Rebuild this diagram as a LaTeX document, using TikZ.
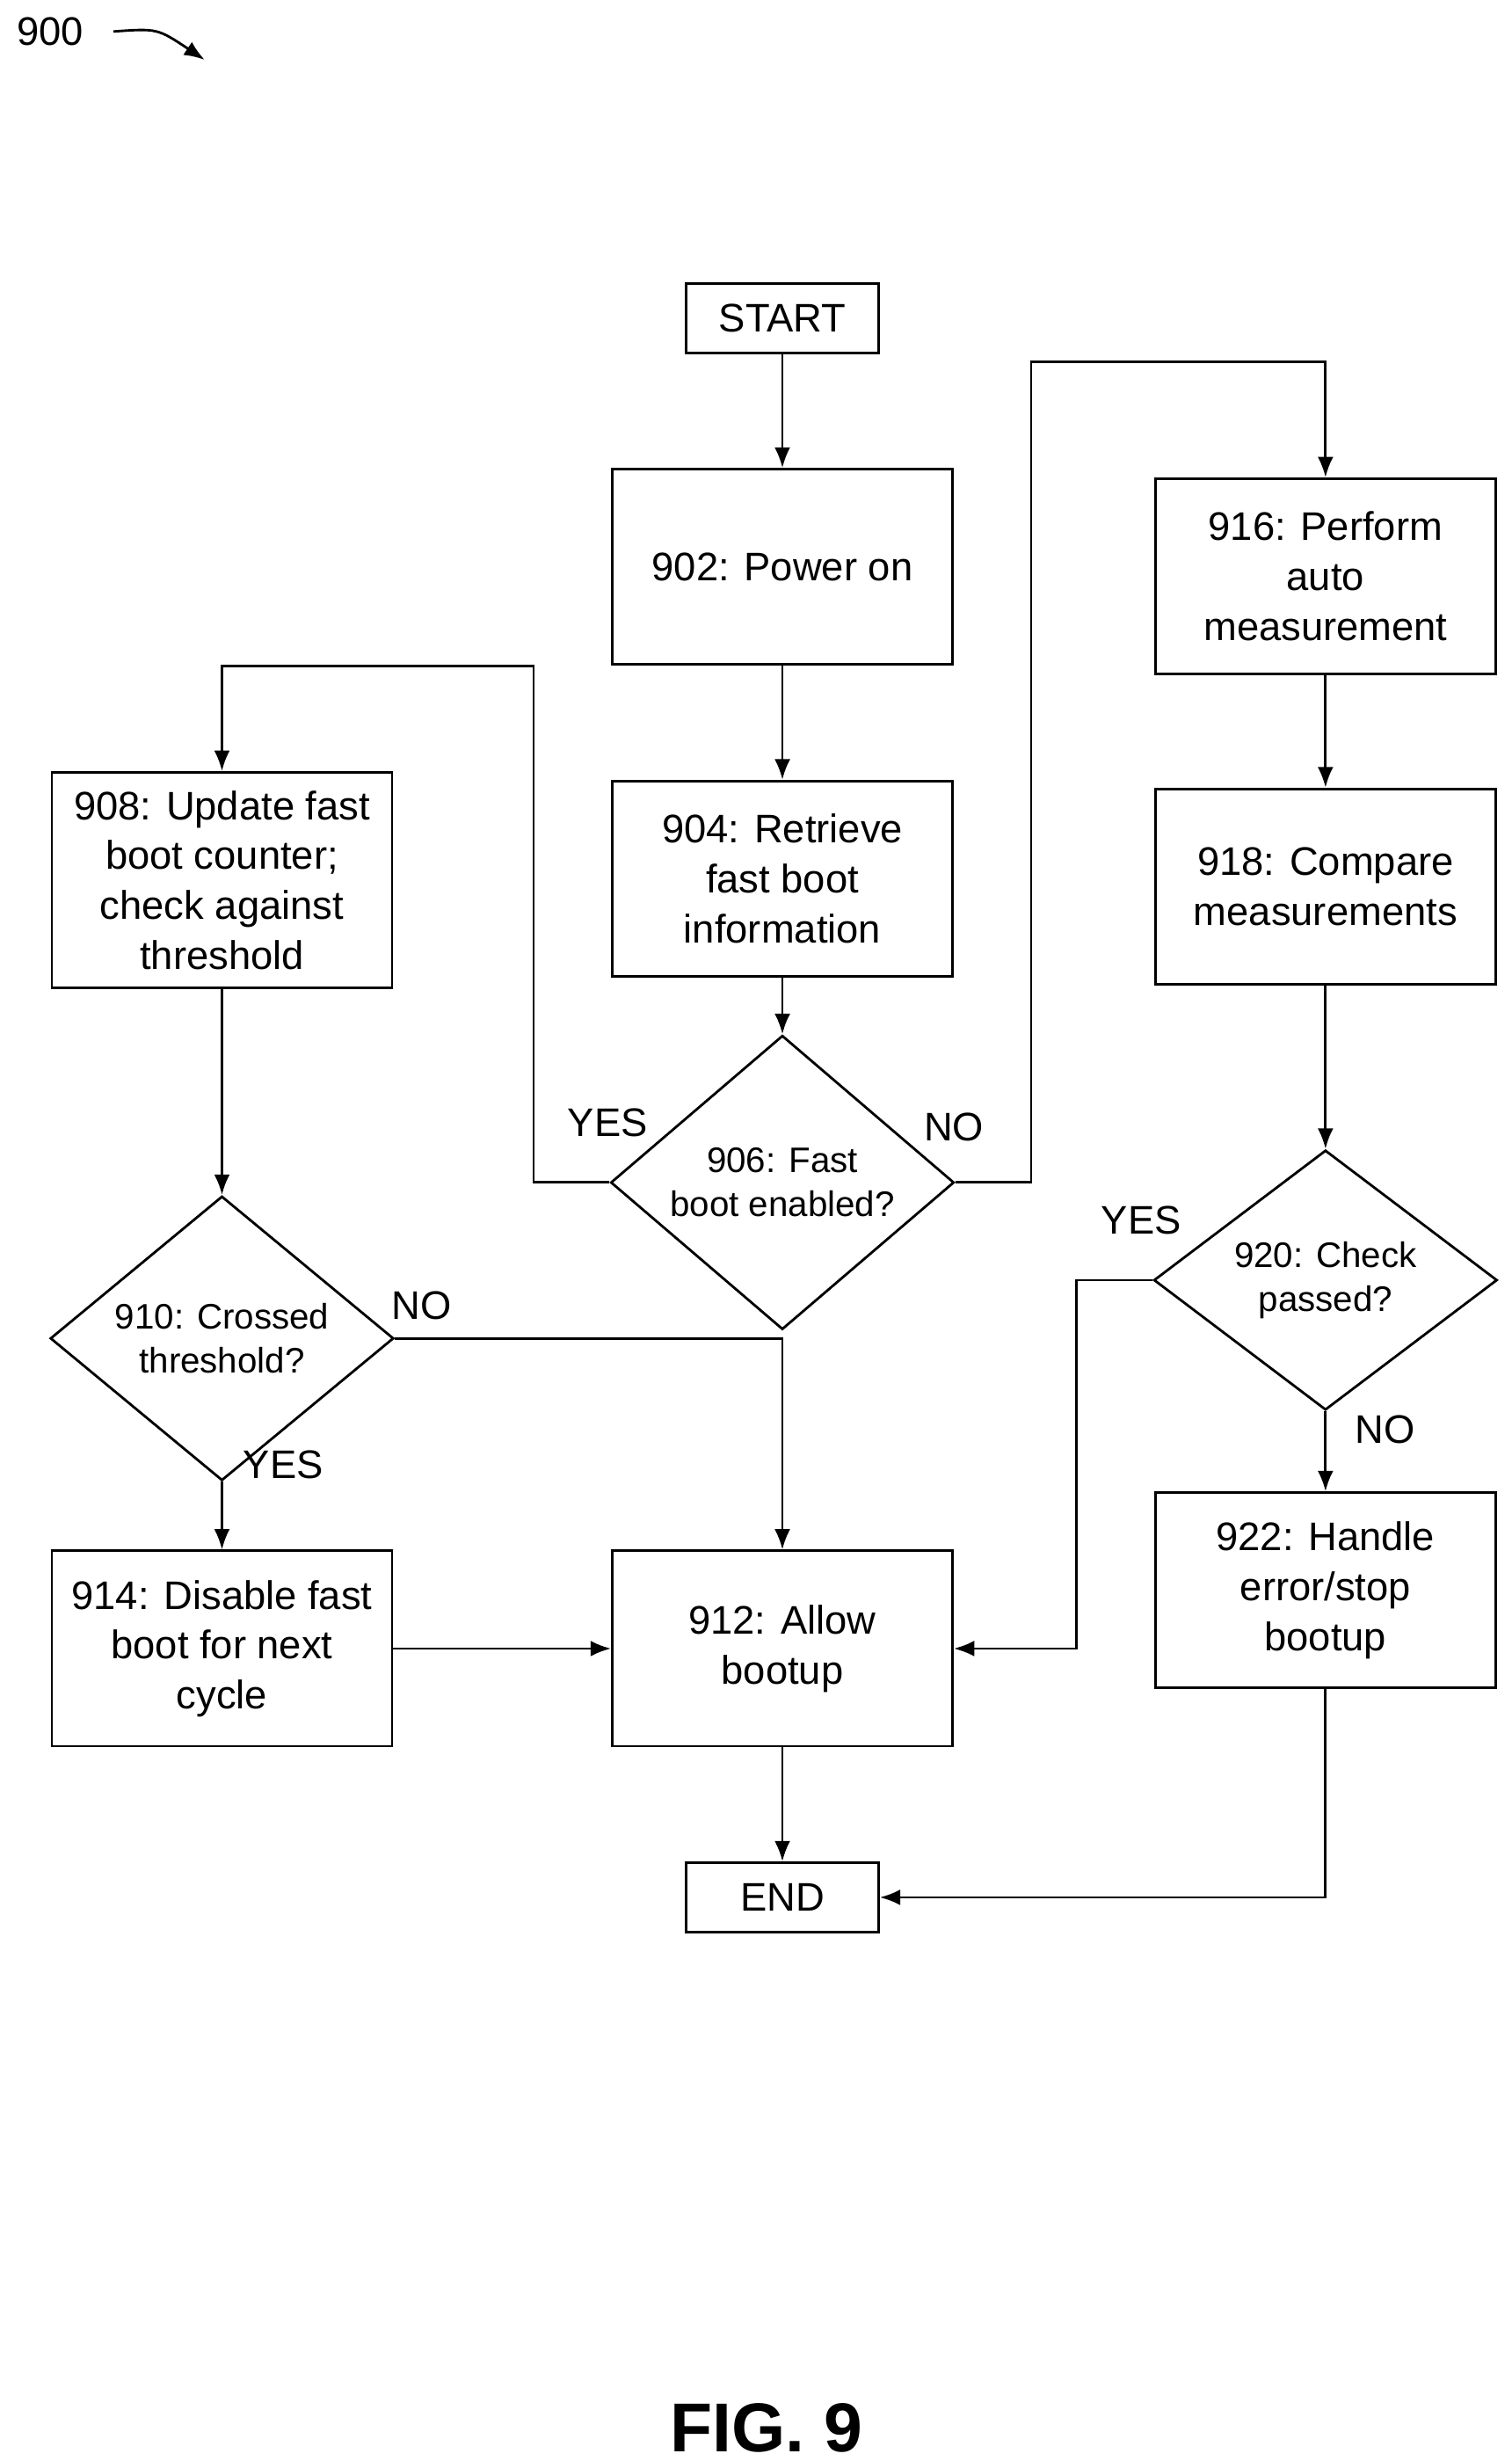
\documentclass[tikz,border=0pt]{standalone}
\usepackage{fontspec}
\setmainfont{Liberation Sans}
\usetikzlibrary{shapes.geometric,arrows.meta}

\tikzset{
  box/.style={draw,rectangle,minimum width=2.16cm,minimum height=1.24cm,align=center,font=\fontsize{7.2}{9}\selectfont},
  term/.style={draw,rectangle,minimum width=1.22cm,minimum height=0.44cm,font=\fontsize{7.2}{9}\selectfont},
  dec/.style={draw,diamond,minimum width=2.18cm,minimum height=1.24cm,inner sep=0pt,align=center,font=\fontsize{6.4}{8}\selectfont},
  lbl/.style={font=\fontsize{7.2}{9}\selectfont},
  flow/.style={-{Latex[length=1.3mm,width=1mm]}}
}

\begin{document}
\begin{tikzpicture}[x=0.01cm,y=-0.01cm,line width=0.45pt]
  \useasboundingbox (0,0) rectangle (960,1563);

  % figure number
  \node[lbl] (fig) at (32,20) {900};
  \coordinate (figtip) at (130,38);
  \draw[flow] (72,20) .. controls (100,18) .. (figtip);

  % middle column
  \node[term] (start) at (497,202) {START};
  \node[box] (n902) at (497,360) {902: Power on};
  \node[box] (n904) at (497,558) {904: Retrieve\\fast boot\\information};
  \node[dec] (n906) at (497,751) {906: Fast\\boot enabled?};
  \node[box] (n912) at (497,1047) {912: Allow\\bootup};
  \node[term] (end) at (497,1205) {END};

  % left column
  \node[box] (n908) at (141,559) {908: Update fast\\boot counter;\\check against\\threshold};
  \node[dec] (n910) at (141,850) {910: Crossed\\threshold?};
  \node[box] (n914) at (141,1047) {914: Disable fast\\boot for next\\cycle};

  % right column
  \node[box] (n916) at (842,366) {916: Perform\\auto\\measurement};
  \node[box] (n918) at (842,563) {918: Compare\\measurements};
  \node[dec] (n920) at (842,813) {920: Check\\passed?};
  \node[box] (n922) at (842,1010) {922: Handle\\error/stop\\bootup};

  \draw[flow] (start) -- (n902);
  \draw[flow] (n902) -- (n904);
  \draw[flow] (n904) -- (n906);
  \draw[flow] (n906.west) -- (339,751) -- (339,423) -| (n908.north);
  \draw[flow] (n906.east) -- (655,751) -- (655,230) -| (n916.north);
  \draw[flow] (n916) -- (n918);
  \draw[flow] (n918) -- (n920);
  \draw[flow] (n920.west) -- (684,813) |- (n912.east);
  \draw[flow] (n920) -- (n922);
  \draw[flow] (n922.south) |- (end.east);
  \draw[flow] (n908) -- (n910);
  \draw[flow] (n910.east) -| (n912.north);
  \draw[flow] (n910) -- (n914);
  \draw[flow] (n914) -- (n912);
  \draw[flow] (n912) -- (end);

  \node[lbl] (yes906) at (386,713) {YES};
  \node[lbl] (no906) at (606,716) {NO};
  \node[lbl] (yes920) at (725,775) {YES};
  \node[lbl] (no920) at (880,908) {NO};
  \node[lbl] (no910) at (268,829) {NO};
  \node[lbl] (yes910) at (180,930) {YES};

  \node[font=\fontsize{12.5}{14}\selectfont\bfseries] (caption) at (487,1542) {FIG. 9};
\end{tikzpicture}
\end{document}
